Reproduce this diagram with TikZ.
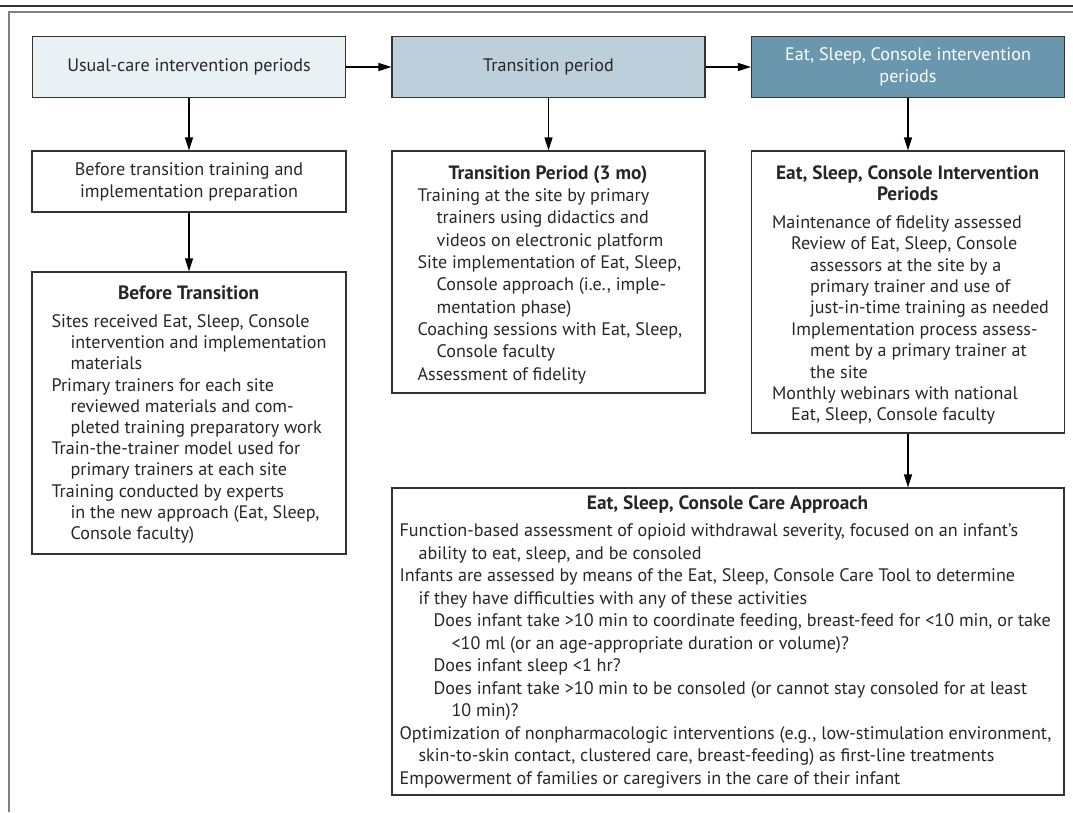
\documentclass[tikz,border=0pt]{standalone}
\usepackage{fontspec}
\setmainfont{PT Sans}
\usetikzlibrary{arrows.meta,positioning}

\definecolor{usualfill}{HTML}{E9F1F5}
\definecolor{transfill}{HTML}{BDCFDB}
\definecolor{escfill}{HTML}{6A97AE}
\definecolor{edgegray}{HTML}{333333}
\definecolor{framegray}{HTML}{808080}
\definecolor{inkgray}{HTML}{262626}

% font sizes fitted to the widths of two sample lines
\newlength{\calw}
\AtBeginDocument{%
  \settowidth{\calw}{\fontsize{10}{12}\selectfont Sites received Eat, Sleep, Console}%
  \pgfmathsetmacro{\bodysize}{10*258/\calw}%
  \settowidth{\calw}{\fontsize{10}{12}\selectfont\bfseries Eat, Sleep, Console Intervention}%
  \pgfmathsetmacro{\headsize}{10*263/\calw}%
}
\newcommand{\bodyfont}[1][21.8]{\fontsize{\bodysize}{#1}\selectfont}
\newcommand{\head}[2]{\makebox[#1]{\fontsize{\headsize}{21.8}\selectfont\bfseries #2}}
\newcommand{\ia}{\hspace*{19pt}}
\newcommand{\ib}{\hspace*{34pt}}
\newcommand{\ic}{\hspace*{38pt}}
\newcommand{\id}{\hspace*{52pt}}

\tikzset{
  phase/.style = {draw = edgegray, line width = 1.2pt, minimum width = 313pt,
    minimum height = 61pt, inner sep = 0pt, align = center, text = inkgray,
    font = \bodyfont},
  stepbox/.style = {draw = edgegray, line width = 1.2pt, inner sep = 0pt,
    align = center, text = inkgray, font = \bodyfont},
  detail/.style = {anchor = north west, inner sep = 0pt, align = left,
    text = inkgray},
  flow/.style = {-{Triangle[length = 13pt, width = 8pt]}, line width = 1.2pt,
    draw = black}
}

\begin{document}
\begin{tikzpicture}[x = 1pt, y = -1pt]
  \useasboundingbox (0,0) rectangle (1073,812);
  % frame
  \draw[line width = 1.5pt, edgegray] (0,6) -- (1073,6);
  \draw[line width = 2.2pt, framegray] (9,812) -- (9,12) -- (1073,12);

  % top row
  \node[phase, fill = usualfill] (usual) at (189,67) {Usual-care intervention periods};
  \node[phase, fill = transfill] (trans) at (548.5,67) {Transition period};
  \node[phase, fill = escfill, text = white] (esc) at (908,67)
    {Eat, Sleep, Console intervention\\periods};

  % boxes
  \node[stepbox, minimum width = 314pt, minimum height = 61pt] (prep) at (189,181.5)
    {Before transition training and\\implementation preparation};
  \node[stepbox, minimum width = 314pt, minimum height = 282pt] (before) at (189,413) {};
  \node[stepbox, minimum width = 313pt, minimum height = 242pt] (during) at (548.5,272) {};
  \node[stepbox, minimum width = 313pt, minimum height = 282pt] (after) at (908,292) {};
  \node[stepbox, minimum width = 672pt, minimum height = 307pt] (care) at (728,641.5) {};

  % texts
  \node[detail, font = {\bodyfont[21.2]}] (beforetxt)
    at ([xshift = 20pt, yshift = -14pt]before.north west)
    {\head{274pt}{Before Transition}\\[7pt]
     Sites received Eat, Sleep, Console\\
     \ia intervention and implementation\\
     \ia materials\\
     Primary trainers for each site\\
     \ia reviewed materials and com-\\
     \ia pleted training preparatory work\\
     Train-the-trainer model used for\\
     \ia primary trainers at each site\\
     Training conducted by experts\\
     \ia in the new approach (Eat, Sleep,\\
     \ia Console faculty)};
  \node[detail, font = {\bodyfont[22.3]}] (duringtxt)
    at ([xshift = 26pt, yshift = -15pt]during.north west)
    {\head{261pt}{Transition Period (3 mo)}\\
     Training at the site by primary\\
     \ia trainers using didactics and\\
     \ia videos on electronic platform\\
     Site implementation of Eat, Sleep,\\
     \ia Console approach (i.e., imple-\\
     \ia mentation phase)\\
     Coaching sessions with Eat, Sleep,\\
     \ia Console faculty\\
     Assessment of fidelity};
  \node[detail, font = {\bodyfont[21.4]}] (aftertxt)
    at ([xshift = 21pt, yshift = -15pt]after.north west)
    {\head{271pt}{Eat, Sleep, Console Intervention}\\
     \head{271pt}{Periods}\\[6pt]
     Maintenance of fidelity assessed\\
     \ia Review of Eat, Sleep, Console\\
     \ic assessors at the site by a\\
     \ic primary trainer and use of\\
     \ic just-in-time training as needed\\
     \ia Implementation process assess-\\
     \ic ment by a primary trainer at\\
     \ic the site\\
     Monthly webinars with national\\
     \ia Eat, Sleep, Console faculty};
  \node[detail, font = {\bodyfont[22.5]}] (caretxt)
    at ([xshift = 8pt, yshift = -8pt]care.north west)
    {\head{656pt}{Eat, Sleep, Console Care Approach}\\[5pt]
     Function-based assessment of opioid withdrawal severity, focused on an infant’s\\
     \ia ability to eat, sleep, and be consoled\\
     Infants are assessed by means of the Eat, Sleep, Console Care Tool to determine\\
     \ia if they have difficulties with any of these activities\\
     \ib Does infant take >10 min to coordinate feeding, breast-feed for <10 min, or take\\
     \id <10 ml (or an age-appropriate duration or volume)?\\
     \ib Does infant sleep <1 hr?\\
     \ib Does infant take >10 min to be consoled (or cannot stay consoled for at least\\
     \id 10 min)?\\
     Optimization of nonpharmacologic interventions (e.g., low-stimulation environment,\\
     \ia skin-to-skin contact, clustered care, breast-feeding) as first-line treatments\\
     Empowerment of families or caregivers in the care of their infant};

  % arrows
  \draw[flow] (usual) -- (trans);
  \draw[flow] (trans) -- (esc);
  \draw[flow] (usual) -- (prep);
  \draw[flow] (prep) -- (before);
  \draw[flow] (trans) -- (during);
  \draw[flow] (esc) -- (after);
  \draw[flow] (after.south) -- (after.south |- care.north);
\end{tikzpicture}
\end{document}
